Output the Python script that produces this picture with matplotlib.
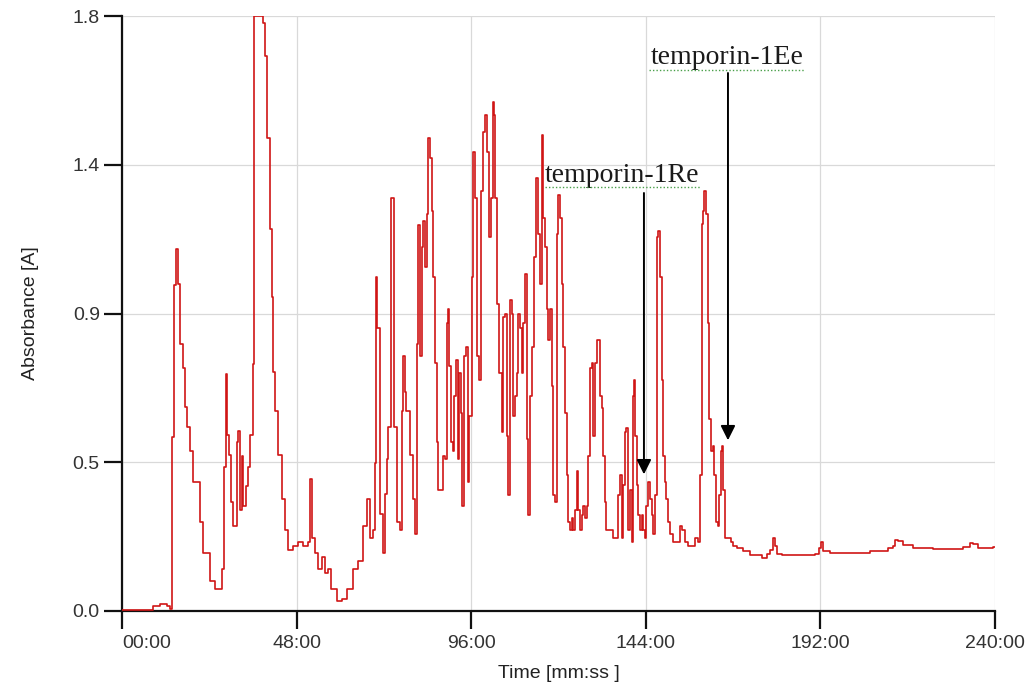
import matplotlib
matplotlib.use("Agg")
from matplotlib import pyplot as plt

# chromatogram trace: time in minutes, absorbance in A
time_min = [0, 7.7, 8.5, 10.4, 12.5, 13.2, 13.7, 14.3, 14.85, 15.5, 15.9, 16.9, 17.3, 18.0, 18.7, 19.6,
            21.4, 22.4, 24.2, 25.6, 26.9, 27.4, 28.0, 28.6, 29.0, 29.5, 29.9, 30.4, 31.1, 31.5, 32.0,
            32.4, 32.9, 33.4, 34.1, 34.7, 35.2, 35.9, 36.3, 38.4, 38.8, 39.3, 39.8, 40.7, 41.2, 41.6,
            42.1, 43.0, 43.9, 44.8, 45.7, 47.1, 48.5, 49.8, 51.2, 51.7, 52.2, 53.1, 54.0, 54.9, 55.8,
            56.7, 57.6, 59.0, 60.4, 61.8, 63.6, 65.0, 66.3, 67.3, 68.2, 69.1, 69.6, 69.8, 70.2, 70.9,
            71.8, 72.3, 72.8, 73.2, 73.9, 74.4, 74.8, 75.5, 76.4, 76.9, 77.3, 77.8, 78.2, 79.2, 80.1,
            80.5, 81.0, 81.5, 81.9, 82.4, 82.8, 83.3, 83.8, 84.2, 84.7, 85.3, 85.6, 86.1, 86.5, 87.0,
            87.6, 88.2, 88.8, 89.3, 89.7, 90.0, 90.4, 90.9, 91.4, 91.8, 92.3, 92.7, 93.1, 93.6, 94.0,
            94.6, 95.0, 95.5, 96.1, 96.6, 97.1, 97.5, 98.1, 98.6, 99.2, 99.8, 100.4, 101.0, 101.4,
            101.9, 102.3, 102.6, 103.2, 103.7, 104.4, 104.8, 105.3, 105.8, 106.2, 106.7, 107.1, 107.6,
            108.0, 108.5, 109.0, 109.4, 109.9, 110.3, 110.8, 111.3, 111.7, 112.2, 112.6, 113.3, 113.8,
            114.3, 114.9, 115.4, 115.8, 116.3, 116.8, 117.2, 117.7, 118.1, 118.6, 119.0, 119.5, 119.9,
            120.4, 120.9, 121.3, 121.8, 122.3, 122.7, 123.2, 123.6, 124.1, 124.5, 125.0, 125.5, 125.9,
            126.4, 126.8, 127.3, 127.8, 128.2, 128.7, 129.1, 129.6, 130.0, 130.5, 131.0, 131.4, 131.9,
            132.3, 132.8, 133.2, 134.2, 135.1, 136.0, 136.5, 136.9, 137.4, 137.8, 138.3, 138.7, 139.2,
            139.7, 140.1, 140.4, 140.8, 141.1, 141.5, 142.0, 142.4, 142.9, 143.3, 143.8, 144.2, 144.7,
            145.2, 145.6, 146.1, 146.5, 147.0, 147.5, 147.9, 148.4, 148.8, 149.3, 149.7, 150.2, 150.7,
            151.6, 152.5, 153.4, 153.9, 154.3, 154.8, 155.7, 156.6, 157.5, 158.4, 158.9, 159.4, 159.8,
            160.1, 160.6, 161.0, 161.5, 161.8, 162.4, 162.7, 163.3, 163.8, 164.2, 164.6, 165.0, 165.3,
            165.8, 166.7, 167.3, 168.1, 169.0, 170.8, 172.6, 174.5, 175.9, 177.2, 178.1, 178.9, 179.5,
            180.2, 181.4, 184.6, 188.2, 190.5, 191.7, 192.1, 192.8, 194.6, 200.1, 205.6, 210.7, 211.9,
            212.5, 213.4, 214.8, 217.5, 223.0, 229.5, 231.3, 233.1, 234.0, 235.4, 237.7, 239.4, 240]

absorbance = [0.003, 0.003, 0.015, 0.02, 0.015, 0.005, 0.527, 0.987, 1.095, 0.99, 0.808, 0.736, 0.616, 0.556,
              0.485, 0.39, 0.27, 0.174, 0.09, 0.066, 0.066, 0.126, 0.437, 0.718, 0.533, 0.473, 0.33, 0.257,
              0.257, 0.51, 0.545, 0.305, 0.47, 0.317, 0.377, 0.437, 0.533, 0.748, 1.799, 1.799, 1.78, 1.68,
              1.43, 1.155, 0.95, 0.724, 0.604, 0.473, 0.34, 0.245, 0.186, 0.198, 0.21, 0.198, 0.21, 0.40,
              0.22, 0.174, 0.126, 0.162, 0.114, 0.126, 0.066, 0.03, 0.036, 0.066, 0.126, 0.15, 0.257, 0.34,
              0.22, 0.245, 0.449, 1.01, 0.855, 0.293, 0.174, 0.353, 0.461, 0.556, 1.25, 1.25, 0.556, 0.27,
              0.245, 0.604, 0.77, 0.664, 0.604, 0.473, 0.34, 0.233, 0.808, 1.167, 0.77, 1.10, 1.18, 1.04,
              1.20, 1.43, 1.37, 1.21, 1.01, 0.75, 0.51, 0.365, 0.365, 0.47, 0.46, 0.87, 0.915, 0.74, 0.51,
              0.485, 0.65, 0.76, 0.46, 0.72, 0.60, 0.317, 0.77, 0.80, 0.39, 0.59, 1.01, 1.39, 1.25, 0.77,
              0.70, 1.27, 1.45, 1.50, 1.39, 1.13, 1.25, 1.54, 1.50, 1.25, 0.93, 0.72, 0.54, 0.89, 0.90,
              0.53, 0.35, 0.94, 0.90, 0.59, 0.65, 0.72, 0.90, 0.855, 0.72, 0.87, 1.02, 0.52, 0.29, 0.65,
              0.80, 1.07, 1.31, 1.14, 0.99, 1.44, 1.19, 1.10, 0.915, 0.82, 0.915, 0.68, 0.35, 0.33, 1.14,
              1.26, 1.19, 0.99, 0.80, 0.60, 0.41, 0.27, 0.245, 0.28, 0.245, 0.305, 0.425, 0.305, 0.245,
              0.29, 0.317, 0.28, 0.317, 0.47, 0.735, 0.75, 0.53, 0.75, 0.82, 0.82, 0.65, 0.615, 0.47, 0.33,
              0.245, 0.245, 0.22, 0.22, 0.35, 0.41, 0.22, 0.38, 0.54, 0.555, 0.245, 0.365, 0.21, 0.65,
              0.70, 0.53, 0.38, 0.29, 0.245, 0.29, 0.245, 0.22, 0.317, 0.39, 0.34, 0.29, 0.233, 0.35, 1.13,
              1.15, 1.01, 0.70, 0.47, 0.39, 0.34, 0.27, 0.233, 0.21, 0.21, 0.257, 0.245, 0.245, 0.21,
              0.198, 0.198, 0.22, 0.21, 0.41, 1.17, 1.21, 1.27, 1.20, 0.87, 0.58, 0.485, 0.50, 0.41, 0.27,
              0.257, 0.35, 0.485, 0.50, 0.365, 0.22, 0.22, 0.21, 0.198, 0.19, 0.18, 0.168, 0.168, 0.16,
              0.173, 0.185, 0.22, 0.198, 0.173, 0.168, 0.168, 0.168, 0.173, 0.19, 0.21, 0.18, 0.176, 0.176,
              0.182, 0.19, 0.198, 0.215, 0.212, 0.20, 0.19, 0.188, 0.188, 0.194, 0.207, 0.203, 0.19, 0.19,
              0.195, 0.195]

x_ticks = [0, 48, 96, 144, 192, 240]
x_labels = ["00:00", "48:00", "96:00", "144:00", "192:00", "240:00"]
y_ticks = [0, 0.45, 0.9, 1.35, 1.8]
y_labels = ["0.0", "0.5", "0.9", "1.4", "1.8"]

# peak labels: text, text position (t, A), arrow t, arrow start A, arrow tip A
peak_names = ["temporin-1Re", "temporin-1Ee"]
peak_text_t = [137.5, 166.3]
peak_text_a = [1.319, 1.673]
peak_arrow_t = [143.5, 166.6]
peak_arrow_from = [1.273, 1.636]
peak_arrow_to = [0.405, 0.508]

plt.rcParams["font.family"] = ["Liberation Sans", "DejaVu Sans"]

fig = plt.figure(figsize=(10.32, 6.9), dpi=100)
ax = fig.add_axes([0.1182, 0.1145, 0.8459, 0.8623])

ax.plot(time_min, absorbance, color="#d01515", lw=1.2, drawstyle="steps-post", zorder=3)

ax.set_xlim(0, 240)
ax.set_ylim(0, 1.8)
ax.set_xticks(x_ticks)
ax.set_xticklabels(x_labels)
ax.set_yticks(y_ticks)
ax.set_yticklabels(y_labels)
ax.get_xticklabels()[0].set_horizontalalignment("left")

ax.grid(True, color="#d9d9d9", lw=0.9)
ax.set_axisbelow(True)
for side in ["top", "right"]:
    ax.spines[side].set_visible(False)
for side in ["left", "bottom"]:
    ax.spines[side].set_linewidth(1.6)
    ax.spines[side].set_color("#111111")

ax.tick_params(axis="both", direction="out", length=13, width=1.6, color="#111111",
               labelsize=14, labelcolor="#333333")
ax.tick_params(axis="y", pad=3)
ax.tick_params(axis="x", pad=4)

ax.set_xlabel("Time [mm:ss ]", fontsize=14, color="#222222", labelpad=10)
ax.set_ylabel("Absorbance [A]", fontsize=14, color="#222222", labelpad=24)

for name, tx, ta, at, a0, a1 in zip(peak_names, peak_text_t, peak_text_a,
                                     peak_arrow_t, peak_arrow_from, peak_arrow_to):
    ax.text(tx, ta, name, family=["Liberation Serif", "DejaVu Serif"], fontsize=20,
            color="#1a1a1a", ha="center", va="center", zorder=5)
    ax.plot([tx - 21.3, tx + 21.3], [ta - 0.036, ta - 0.036], color="#4aa04a",
            lw=1, ls=(0, (1, 1.5)), zorder=5)
    ax.annotate("", xy=(at, a1), xytext=(at, a0),
                arrowprops=dict(arrowstyle="-|>", color="black", lw=1.4, mutation_scale=22),
                zorder=6)

fig.savefig("out.png", dpi=100)
